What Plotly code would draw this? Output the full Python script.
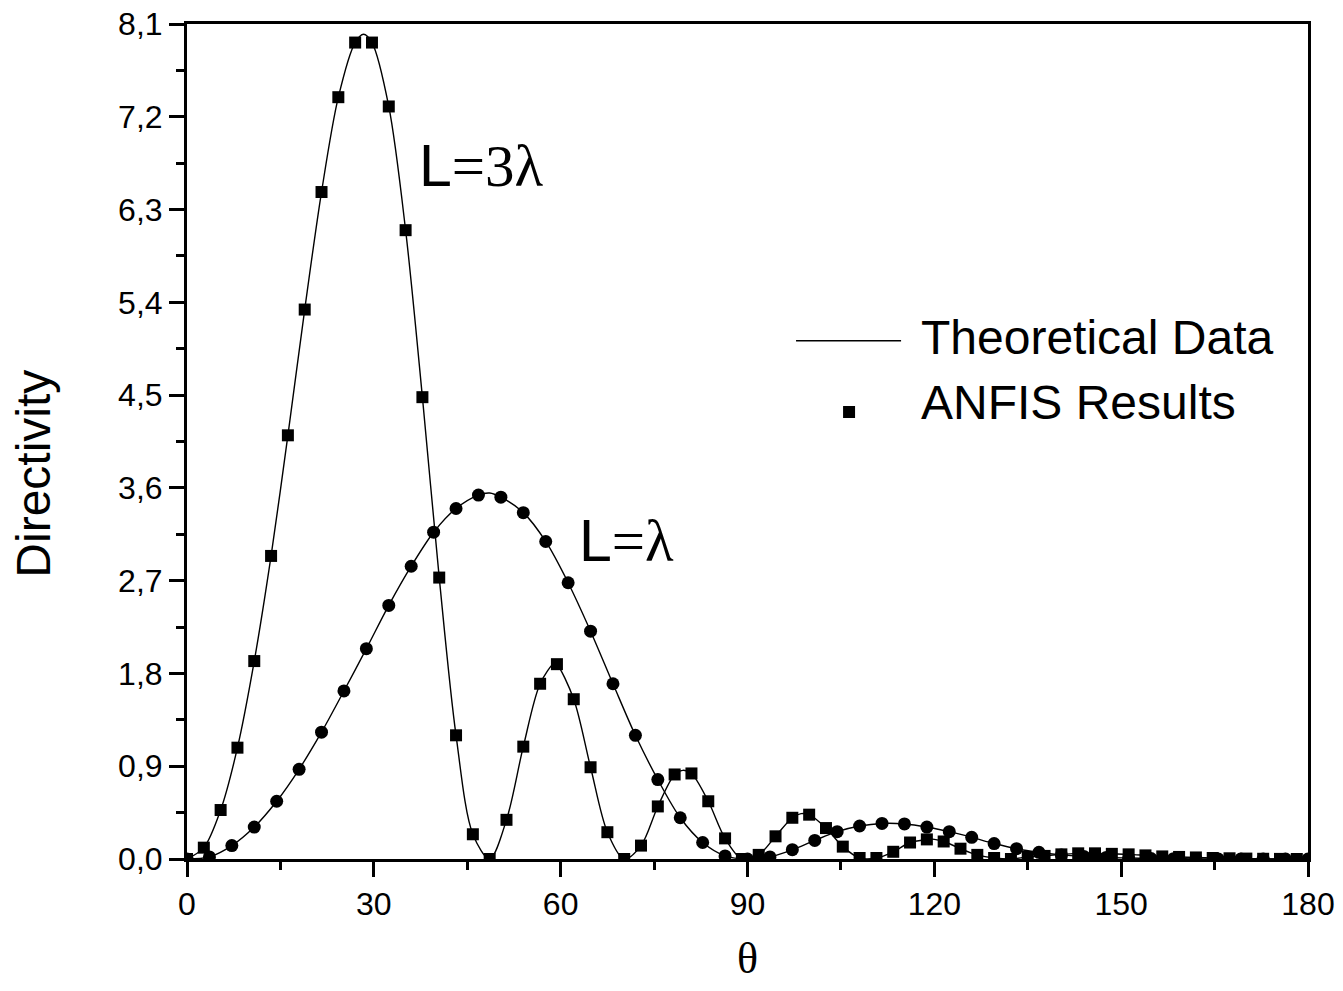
import plotly.graph_objects as go

# ---------------- data ----------------
# ANFIS results, L = 3 lambda (squares)
theta_3l = [0.0, 2.7, 5.4, 8.1, 10.8, 13.5, 16.2, 18.9, 21.6, 24.3, 27.0, 29.7, 32.4, 35.1,
            37.8, 40.5, 43.2, 45.9, 48.6, 51.3, 54.0, 56.7, 59.4, 62.1, 64.8, 67.5, 70.2,
            72.9, 75.6, 78.3, 81.0, 83.7, 86.4, 89.1, 91.8, 94.5, 97.2, 99.9, 102.6, 105.3,
            108.0, 110.7, 113.4, 116.1, 118.8, 121.5, 124.2, 126.9, 129.6, 132.3, 135.0,
            137.7, 140.4, 143.1, 145.8, 148.5, 151.2, 153.9, 156.6, 159.3, 162.0, 164.7,
            167.4, 170.1, 172.8, 175.5, 178.2]
dir_3l = [0.0, 0.11, 0.475, 1.08, 1.92, 2.94, 4.11, 5.33, 6.47, 7.39, 7.92, 7.92, 7.30, 6.10,
          4.48, 2.73, 1.20, 0.24, 0.0, 0.38, 1.09, 1.70, 1.89, 1.55, 0.89, 0.26, 0.0,
          0.13, 0.51, 0.82, 0.83, 0.56, 0.20, 0.0, 0.04, 0.22, 0.40, 0.43, 0.30, 0.12,
          0.01, 0.01, 0.07, 0.16, 0.19, 0.17, 0.10, 0.04, 0.01, 0.0, 0.02,
          0.03, 0.045, 0.055, 0.055, 0.05, 0.045, 0.035, 0.025, 0.02, 0.015, 0.01,
          0.007, 0.004, 0.002, 0.001, 0.0]

# ANFIS results, L = lambda (circles)
theta_1l = [0.0, 3.6, 7.2, 10.8, 14.4, 18.0, 21.6, 25.2, 28.8, 32.4, 36.0, 39.6, 43.2, 46.8,
            50.4, 54.0, 57.6, 61.2, 64.8, 68.4, 72.0, 75.6, 79.2, 82.8, 86.4, 90.0, 93.6,
            97.2, 100.8, 104.4, 108.0, 111.6, 115.2, 118.8, 122.4, 126.0, 129.6, 133.2,
            136.8, 140.4, 144.0, 147.6, 151.2, 154.8, 158.4, 162.0, 165.6, 169.2, 172.8,
            176.4, 180.0]
dir_1l = [0.0, 0.02, 0.13, 0.31, 0.56, 0.87, 1.23, 1.63, 2.04, 2.46, 2.84, 3.17, 3.40, 3.53,
          3.51, 3.36, 3.08, 2.68, 2.21, 1.70, 1.20, 0.77, 0.40, 0.16, 0.03, 0.0, 0.02,
          0.09, 0.18, 0.265, 0.32, 0.345, 0.34, 0.31, 0.265, 0.21, 0.15, 0.10,
          0.065, 0.04, 0.025, 0.015, 0.01, 0.005, 0.003, 0.001, 0.0, 0.0, 0.0,
          0.0, 0.0]

# extra points of the theoretical curves (lobe maxima)
peak_theta_3l = [28.35, 59.0, 79.6, 98.6, 119.2, 144.5]
peak_dir_3l = [8.0, 1.90, 0.86, 0.44, 0.195, 0.057]
peak_theta_1l = [48.6]
peak_dir_1l = [3.55]

x_ticks = [0, 30, 60, 90, 120, 150, 180]
y_ticks = [0.0, 0.9, 1.8, 2.7, 3.6, 4.5, 5.4, 6.3, 7.2, 8.1]


def merge(xa, ya, xb, yb):
    pts = sorted(zip(list(xa) + list(xb), list(ya) + list(yb)))
    return [p[0] for p in pts], [p[1] for p in pts]


th3_x, th3_y = merge(theta_3l, dir_3l, peak_theta_3l, peak_dir_3l)
th1_x, th1_y = merge(theta_1l, dir_1l, peak_theta_1l, peak_dir_1l)

SANS = "Liberation Sans, Arial, sans-serif"
SERIF = "Liberation Serif, Times New Roman, serif"

fig = go.Figure()
for tx, ty in [(th3_x, th3_y), (th1_x, th1_y)]:
    fig.add_trace(go.Scatter(x=tx, y=ty, mode="lines",
                             line=dict(color="black", width=1.4, shape="spline", smoothing=0.9),
                             showlegend=False, hoverinfo="skip"))

fig.add_trace(go.Scatter(x=theta_1l, y=dir_1l, mode="markers",
                         marker=dict(symbol="circle", size=13, color="black"),
                         showlegend=False))
fig.add_trace(go.Scatter(x=theta_3l, y=dir_3l, mode="markers",
                         marker=dict(symbol="square", size=12, color="black"),
                         showlegend=False))

axis_common = dict(showline=True, linewidth=3, linecolor="black", mirror=True,
                   showgrid=False, zeroline=False, ticks="outside", ticklen=15,
                   tickwidth=2.5, tickcolor="black", automargin=False,
                   ticklabeloverflow="allow",
                   tickfont=dict(family=SANS, size=32, color="black"))

fig.update_xaxes(range=[0, 180], tickvals=x_ticks, ticktext=[str(v) for v in x_ticks],
                 minor=dict(dtick=15, tick0=0, ticks="outside", ticklen=8, tickwidth=2.5,
                            tickcolor="black", showgrid=False),
                 **axis_common)
fig.update_yaxes(range=[0, 8.1], tickvals=y_ticks,
                 ticktext=[f"{v:.1f}".replace(".", ",") for v in y_ticks],
                 minor=dict(dtick=0.45, tick0=0, ticks="outside", ticklen=8, tickwidth=2.5,
                            tickcolor="black", showgrid=False),
                 **axis_common)

# axis titles
fig.add_annotation(x=-0.137, y=0.462, xref="paper", yref="paper", xanchor="center", yanchor="middle",
                   text="Directivity", textangle=-90, showarrow=False,
                   font=dict(family=SANS, size=48, color="black"))
fig.add_annotation(x=0.5, y=-0.119, xref="paper", yref="paper", xanchor="center", yanchor="middle",
                   text="θ", showarrow=False,
                   font=dict(family=SERIF, size=44, color="black"))

# curve labels
fig.add_annotation(x=37.0, y=6.72, xref="x", yref="y", xanchor="left", yanchor="middle",
                   text="L<span style='font-family:Liberation Serif'>=3λ</span>",
                   showarrow=False, font=dict(family=SANS, size=59, color="black"))
fig.add_annotation(x=62.6, y=3.08, xref="x", yref="y", xanchor="left", yanchor="middle",
                   text="L<span style='font-family:Liberation Serif'>=λ</span>",
                   showarrow=False, font=dict(family=SANS, size=59, color="black"))

# legend (drawn manually to match the long line sample)
fig.add_shape(type="line", xref="paper", yref="paper", x0=0.5433, x1=0.6370, y0=0.6207, y1=0.6207,
              line=dict(color="black", width=1.4))
fig.add_shape(type="rect", xref="paper", yref="paper", xsizemode="pixel", ysizemode="pixel",
              xanchor=0.5906, yanchor=0.5353, x0=-6, x1=6, y0=-6, y1=6,
              fillcolor="black", line=dict(width=0))
fig.add_annotation(x=0.6530, y=0.6246, xref="paper", yref="paper", xanchor="left", yanchor="middle",
                   text="Theoretical Data", showarrow=False,
                   font=dict(family=SANS, size=48, color="black"))
fig.add_annotation(x=0.6530, y=0.5467, xref="paper", yref="paper", xanchor="left", yanchor="middle",
                   text="ANFIS Results", showarrow=False,
                   font=dict(family=SANS, size=48, color="black"))

fig.update_layout(width=1343, height=991, margin=dict(l=187, r=35, t=24, b=132),
                  paper_bgcolor="white", plot_bgcolor="white", showlegend=False)

# remove the default 8px page margin so the figure fills the window exactly
fig.write_html("out.html", config={"displayModeBar": False},
               post_script="document.body.style.margin='0';document.body.style.overflow='hidden';")
